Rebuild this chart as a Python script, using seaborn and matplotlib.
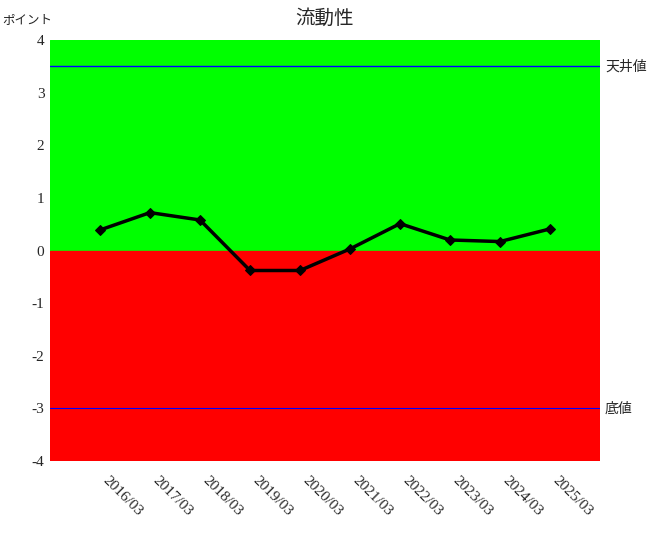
import numpy as np
import pandas as pd
import matplotlib
matplotlib.use('Agg')
import matplotlib.pyplot as plt
import seaborn as sns

# data
years = ['2016/03', '2017/03', '2018/03', '2019/03', '2020/03',
         '2021/03', '2022/03', '2023/03', '2024/03', '2025/03']
points = [0.39, 0.72, 0.58, -0.38, -0.38, 0.03, 0.51, 0.20, 0.17, 0.41]
ceiling = 3.5
floor = -3.0
y_ticks = [-4, -3, -2, -1, 0, 1, 2, 3, 4]

df = pd.DataFrame({'year': years, 'point': points})
df['idx'] = range(len(df))

sns.set_style('white')
plt.rcParams['font.family'] = ['Liberation Serif', 'Noto Sans CJK JP']

fig = plt.figure(figsize=(6.5, 5.4), dpi=100)
ax = fig.add_axes([50/650, 79/540, 550/650, 421/540])

ax.set_xlim(-1, len(years))
ax.set_ylim(-4, 4)

# background bands
ax.axhspan(0, 4, color='#00ff00', zorder=0)
ax.axhspan(-4, 0, color='#ff0000', zorder=0)

ax.axhline(ceiling, color='blue', lw=1, zorder=1)
ax.axhline(floor, color='blue', lw=0.8, zorder=1)
ax.text(len(years) + 0.1, ceiling, '天井値', va='center', ha='left', fontsize=10,
        family=['Noto Sans CJK JP'])
ax.text(len(years) + 0.1, floor, '底値', va='center', ha='left', fontsize=10,
        family=['Noto Sans CJK JP'])

sns.lineplot(data=df, x='idx', y='point', ax=ax, color='black', lw=2.5,
             marker='D', markersize=5.5, markeredgecolor='black', zorder=3)

ax.set_xticks(df['idx'])
ax.set_xticklabels(years, rotation=-45, ha='left', va='bottom',
                   rotation_mode='anchor', fontsize=11)
ax.set_yticks(y_ticks)
ax.set_yticklabels([str(t) for t in y_ticks], fontsize=11)
ax.tick_params(axis='both', length=0)
ax.tick_params(axis='y', pad=4)
ax.tick_params(axis='x', pad=16)
for s in ax.spines.values():
    s.set_visible(False)

ax.set_xlabel('')
ax.set_ylabel('')
fig.text(2/650, 1 - 20/540, 'ポイント', fontsize=9, va='center', ha='left',
         family=['Noto Sans CJK JP'])
fig.text(325/650, 1 - 18/540, '流動性', fontsize=14, va='center', ha='center',
         family=['Noto Sans CJK JP'])

fig.savefig('out.png', dpi=100)
